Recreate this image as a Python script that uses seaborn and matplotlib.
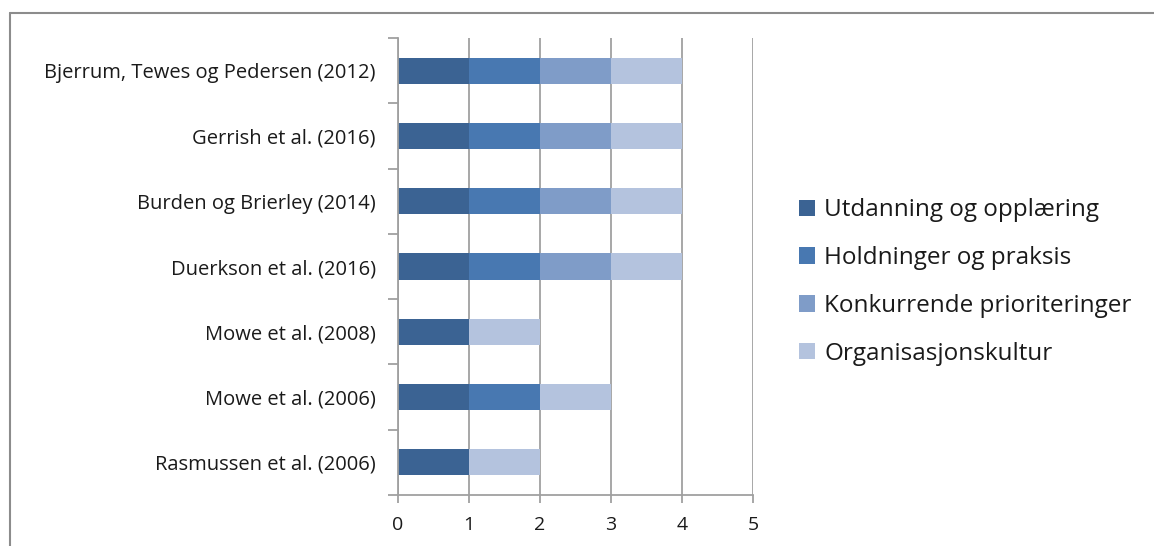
import matplotlib
matplotlib.use("Agg")
import matplotlib.pyplot as plt
from matplotlib.lines import Line2D
from matplotlib.patches import Patch
import seaborn as sns
import pandas as pd
import numpy as np

studies = ["Bjerrum, Tewes og Pedersen (2012)", "Gerrish et al. (2016)",
           "Burden og Brierley (2014)", "Duerkson et al. (2016)",
           "Mowe et al. (2008)", "Mowe et al. (2006)", "Rasmussen et al. (2006)"]
series = ["Utdanning og opplæring", "Holdninger og praksis",
          "Konkurrende prioriteringer", "Organisasjonskultur"]
utdanning = [1, 1, 1, 1, 1, 1, 1]
holdninger = [1, 1, 1, 1, 0, 1, 0]
konkurrende = [1, 1, 1, 1, 0, 0, 0]
organisasjon = [1, 1, 1, 1, 1, 1, 1]
colors = ["#3B6393", "#4878B1", "#7F9CC8", "#B4C3DE"]
xticks = [0, 1, 2, 3, 4, 5]

sns.set_style("white")
plt.rcParams['font.family'] = ['Open Sans', 'DejaVu Sans']

fig = plt.figure(figsize=(11.54, 5.46), dpi=100)
ax = fig.add_axes([398/1154, 1-495/546, (753-398)/1154, (495-38)/546])

vals = np.array([utdanning, holdninger, konkurrende, organisasjon], dtype=float)
cum = np.cumsum(vals, axis=0)
for i in range(3, -1, -1):
    df = pd.DataFrame({"study": studies, "value": cum[i]})
    sns.barplot(data=df, x="value", y="study", orient="h", color=colors[i],
                width=0.4, ax=ax, saturation=1, edgecolor="none", zorder=2)

ax.set_xlim(0, 5)
ax.set_ylim(6.5, -0.5)
ax.set_xticks(xticks)
ax.set_xticklabels([str(t) for t in xticks])
ax.set_xlabel("")
ax.set_ylabel("")
ax.xaxis.grid(True, color="#A0A0A0", linewidth=1.3, zorder=0)
ax.set_axisbelow(True)
for s in ["top", "right"]:
    ax.spines[s].set_visible(False)
for s in ["left", "bottom"]:
    ax.spines[s].set_color("#A0A0A0")
    ax.spines[s].set_linewidth(1.3)

ax.set_yticks(np.arange(-0.5, 7, 1), minor=True)
ax.tick_params(axis="y", which="major", left=False, length=0, pad=16, labelsize=14.5,
               labelcolor="#1a1a1a")
ax.tick_params(axis="y", which="minor", left=True, length=7, width=1.3, color="#A0A0A0",
               direction="out")
ax.tick_params(axis="x", which="major", bottom=True, length=6, width=1.3, color="#A0A0A0",
               direction="out", pad=9, labelsize=14, labelcolor="#1a1a1a")

handles = [Patch(facecolor=c, edgecolor="none") for c in colors]
fig.legend(handles, series, loc="center left", bbox_to_anchor=(799/1154, 1-282/546),
           frameon=False, fontsize=17.5, handlelength=0.66, handleheight=0.66,
           handletextpad=0.38, labelspacing=0.98, borderpad=0, borderaxespad=0,
           labelcolor="#1a1a1a")

fig.add_artist(Line2D([10/1154, 10/1154], [0, 1-13/546], transform=fig.transFigure,
                      color="#8C8C8C", linewidth=1.5))
fig.add_artist(Line2D([10/1154, 1], [1-13/546, 1-13/546], transform=fig.transFigure,
                      color="#8C8C8C", linewidth=1.5))

fig.savefig("out.png", dpi=100, facecolor="white")
